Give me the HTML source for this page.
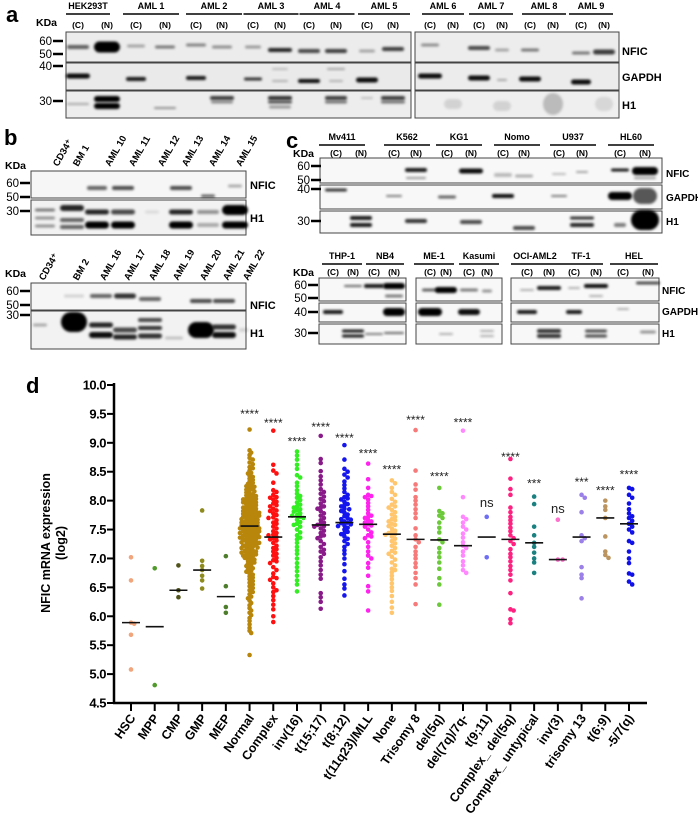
<!DOCTYPE html>
<html><head><meta charset="utf-8"><style>
html,body{margin:0;padding:0;background:#fff}
svg{display:block}
text{font-family:"Liberation Sans",Arial,sans-serif}
.b{font-weight:bold}
</style></head><body>
<svg id="fig" width="698" height="818" viewBox="0 0 698 818" xmlns="http://www.w3.org/2000/svg">
<defs><filter id="blur" x="-50%" y="-100%" width="200%" height="300%"><feGaussianBlur stdDeviation="1.3"/></filter></defs>
<g id="blots"></g>
<g id="chart"></g>
</svg>
<script>
// ---------- chart data (panel d) ----------
const categories = ["HSC","MPP","CMP","GMP","MEP","Normal","Complex","inv(16)","t(15;17)","t(8;12)","t(11q23)/MLL","None","Trisomy 8","del(5q)","del(7q)/7q-","t(9;11)","Complex_ del(5q)","Complex_ untypical","inv(3)","trisomy 13","t(6;9)","-5/7(q)"];
const colors = ["#f2a47a","#4f9a2a","#50541a","#8d8a1e","#4d7d2c","#b8860b","#ff1010","#33ee22","#8a1a8a","#1515ee","#ff22ee","#ffc66e","#f77a7a","#6cc93a","#ff88ff","#6e6ef5","#ff2080","#1a8080","#ff70cc","#9a80e8","#bb9460","#1010e8"];
const medians = [5.89,5.82,6.45,6.80,6.34,7.56,7.37,7.72,7.58,7.62,7.59,7.42,7.33,7.32,7.22,7.37,7.33,7.27,6.98,7.37,7.70,7.60];
const sigLabels = ["","","","","","****","****","****","****","****","****","****","****","****","****","ns","****","***","ns","***","****","****"];
const sigY = [0,0,0,0,0,9.53,9.38,9.06,9.31,9.12,8.85,8.57,9.43,8.45,9.39,7.98,8.79,8.33,7.87,8.36,8.21,8.49];
const yTicks = ["4.5","5.0","5.5","6.0","6.5","7.0","7.5","8.0","8.5","9.0","9.5","10.0"];
const vHSC = [7.02,6.62,5.89,5.87,5.68,5.08];
const vMPP = [6.83,4.81];
const vCMP = [6.88,6.45,6.33];
const vGMP = [7.83,6.96,6.87,6.80,6.70,6.62,6.48];
const vMEP = [7.04,6.52,6.16,6.06];
const vNormal = [9.23,8.87,8.83,8.79,8.74,8.71,8.66,8.63,8.58,8.56,8.52,8.48,8.47,8.43,8.41,8.38,8.36,8.33,8.31,8.29,8.27,8.25,8.24,8.22,8.20,8.19,8.17,8.16,8.14,8.12,8.11,8.09,8.08,8.06,8.05,8.03,8.02,8.01,7.99,7.98,7.97,7.95,7.94,7.93,7.92,7.90,7.89,7.88,7.86,7.85,7.84,7.83,7.82,7.80,7.79,7.78,7.77,7.76,7.75,7.74,7.73,7.72,7.71,7.70,7.69,7.68,7.67,7.66,7.65,7.64,7.63,7.62,7.61,7.60,7.59,7.58,7.57,7.56,7.55,7.54,7.53,7.52,7.51,7.50,7.49,7.48,7.47,7.46,7.45,7.44,7.43,7.42,7.41,7.40,7.39,7.38,7.37,7.36,7.35,7.34,7.33,7.32,7.31,7.30,7.29,7.28,7.27,7.26,7.25,7.24,7.22,7.21,7.20,7.19,7.18,7.17,7.15,7.14,7.13,7.12,7.10,7.09,7.08,7.06,7.05,7.04,7.02,7.01,6.99,6.98,6.96,6.94,6.93,6.91,6.89,6.87,6.85,6.83,6.81,6.79,6.77,6.74,6.72,6.69,6.67,6.64,6.61,6.58,6.55,6.52,6.49,6.45,6.42,6.38,6.34,6.31,6.27,6.23,6.19,6.14,6.10,6.06,6.02,5.97,5.92,5.86,5.80,5.75,5.71,5.33,7.88,7.81,7.74,7.66,7.59,7.52,7.44,7.36,7.28,7.19,7.11,7.62,7.57,7.47,7.68,7.39,7.53,7.79,7.23,7.97,8.04,7.07];
const vComplex = [9.21,8.62,8.52,8.47,8.31,8.18,8.15,8.10,8.05,8.02,7.98,7.95,7.90,7.86,7.82,7.78,7.75,7.71,7.66,7.60,7.55,7.52,7.47,7.44,7.40,7.37,7.35,7.31,7.27,7.22,7.16,7.12,7.05,7.01,6.97,6.92,6.85,6.80,6.74,6.68,6.63,6.57,6.50,6.42,6.35,6.28,6.20,6.12,6.00,5.90,7.83,7.62,7.41,7.33,7.18,7.08,6.95,6.66,6.45,7.70,7.92,8.06];
const vInv16 = [8.85,8.78,8.71,8.62,8.55,8.44,8.40,8.31,8.25,8.18,8.12,8.05,8.01,7.97,7.93,7.88,7.85,7.81,7.78,7.75,7.72,7.70,7.67,7.63,7.60,7.55,7.50,7.45,7.40,7.33,7.27,7.20,7.14,7.08,7.00,6.92,6.85,6.78,6.70,6.62,6.55,6.43,7.90,7.74,7.58,7.36,8.08,7.83];
const vT1517 = [9.12,8.72,8.65,8.51,8.42,8.35,8.28,8.20,8.12,8.07,8.03,7.99,7.95,7.90,7.86,7.82,7.78,7.74,7.70,7.66,7.62,7.58,7.55,7.52,7.48,7.44,7.40,7.35,7.30,7.25,7.20,7.15,7.08,7.02,6.95,6.88,6.80,6.72,6.65,6.40,6.33,6.25,6.13,7.88,7.60,7.56,7.38,7.12,8.15];
const vT812 = [8.96,8.71,8.55,8.50,8.45,8.40,8.33,8.27,8.21,8.15,8.10,8.06,8.02,7.98,7.94,7.90,7.86,7.82,7.79,7.76,7.73,7.70,7.67,7.64,7.62,7.59,7.56,7.53,7.50,7.46,7.42,7.38,7.34,7.30,7.25,7.20,7.14,7.08,7.00,6.90,6.78,6.65,6.55,6.48,6.36,7.85,7.68,7.61,7.57,7.44,7.92,8.04];
const vMLL = [8.64,8.37,8.22,8.10,8.06,8.02,7.96,7.90,7.84,7.78,7.74,7.70,7.66,7.62,7.59,7.55,7.50,7.45,7.40,7.35,7.28,7.20,7.12,7.05,7.00,6.92,6.84,6.70,6.52,6.43,6.10,7.72,7.64,7.57,7.38,8.08];
const vNone = [8.35,8.30,8.22,8.15,8.10,8.03,7.98,7.93,7.88,7.84,7.80,7.76,7.72,7.68,7.64,7.60,7.56,7.52,7.48,7.44,7.41,7.38,7.34,7.30,7.26,7.22,7.18,7.13,7.08,7.03,6.98,6.93,6.88,6.82,6.76,6.70,6.64,6.57,6.50,6.44,6.35,6.25,6.15,6.06,7.90,7.66,7.46,7.42,7.10,6.80,7.58];
const vTri8 = [9.22,8.52,8.28,8.19,8.06,8.00,7.93,7.85,7.78,7.70,7.52,7.40,7.33,7.28,7.20,7.12,7.06,7.00,6.92,6.85,6.75,6.66,6.55,6.21];
const vDel5q = [8.22,7.82,7.78,7.74,7.70,7.62,7.53,7.45,7.33,7.28,7.18,7.10,7.02,6.93,6.82,6.66,6.55,6.20];
const vDel7q = [9.21,8.06,7.72,7.68,7.62,7.55,7.50,7.43,7.36,7.28,7.22,7.18,7.12,7.05,6.95,6.88,6.80,6.75];
const vT911 = [7.72,7.02];
const vCDel5q = [8.72,8.38,8.20,8.10,7.88,7.80,7.72,7.66,7.60,7.53,7.47,7.40,7.35,7.30,7.25,7.16,7.08,7.02,6.95,6.87,6.80,6.72,6.62,6.40,6.12,6.10,5.95,5.88];
const vUntyp = [8.07,7.94,7.55,7.40,7.27,7.20,7.10,7.00,6.93,6.75];
const vInv3 = [7.67,6.98,6.98];
const vTri13 = [8.10,8.05,7.80,7.40,7.35,7.30,6.85,6.72,6.66,6.31];
const vT69 = [8.00,7.90,7.84,7.70,7.38,7.12,7.06,7.01];
const v57q = [8.22,8.20,8.10,8.05,7.95,7.85,7.78,7.73,7.70,7.65,7.60,7.55,7.50,7.45,7.30,7.27,7.12,7.00,6.92,6.74,6.72,6.60,6.55];
const seriesValues = [vHSC,vMPP,vCMP,vGMP,vMEP,vNormal,vComplex,vInv16,vT1517,vT812,vMLL,vNone,vTri8,vDel5q,vDel7q,vT911,vCDel5q,vUntyp,vInv3,vTri13,vT69,v57q];

const NS="http://www.w3.org/2000/svg";
function mk(tag,attrs,parent,txt){const e=document.createElementNS(NS,tag);for(const k in attrs)e.setAttribute(k,attrs[k]);if(txt!==undefined)e.textContent=txt;parent.appendChild(e);return e;}

// ---------- panel d ----------
(function(){
const g=document.getElementById('chart');
const X0=114, Y0=703, YMIN=4.5, YMAX=10.0, YTOP=385, X1=647;
const yS=v=>Y0-(v-YMIN)/(YMAX-YMIN)*(Y0-YTOP);
const xS=i=>131+i*(629-131)/(categories.length-1);
let t=mk('text',{x:26,y:393,'font-size':22,class:'b'},g,'d');


let ax=mk('line',{x1:X0,y1:YTOP-2,x2:X0,y2:Y0+1,stroke:'#000','stroke-width':2.5},g);


let bx=mk('line',{x1:X0-1,y1:Y0,x2:X1,y2:Y0,stroke:'#000','stroke-width':2.5},g);


yTicks.forEach((lab)=>{const v=parseFloat(lab);const y=yS(v);
 mk('line',{x1:X0-7,y1:y,x2:X0,y2:y,stroke:'#000','stroke-width':2},g);
 let tl=mk('text',{x:X0-8,y:y+4.5,'font-size':13,class:'b','text-anchor':'end','letter-spacing':'-0.5'},g,lab);
 
 
});
let yt=mk('text',{transform:'translate(50,543) rotate(-90)','font-size':12.5,class:'b','text-anchor':'middle'},g,'NFIC mRNA expression');


let yt2=mk('text',{transform:'translate(65,543) rotate(-90)','font-size':12.5,class:'b','text-anchor':'middle'},g,'(log2)');


categories.forEach((c,i)=>{const x=xS(i);
 mk('line',{x1:x,y1:Y0,x2:x,y2:Y0+8,stroke:'#000','stroke-width':2},g);
 let xl=mk('text',{transform:`translate(${x+5},${Y0+15}) rotate(-55)`,'font-size':12.5,class:'b','text-anchor':'end'},g,c);
 
 
 const grp=mk('g',{},g);
 
 
 const vals=seriesValues[i].slice().sort((a,b)=>b-a);
 const placed=[]; const d=i==5?2.8:3.4, maxOff=i==5?10:9.5;
 vals.forEach(v=>{const py=yS(v);let off=0;
  for(let k=0;k<40;k++){const o=(k%2?1:-1)*Math.ceil(k/2)*1.6;
   if(Math.abs(o)>maxOff){off=(k%4<2?1:-1)*maxOff*((k*7)%10)/10;break;}
   if(placed.every(p=>Math.hypot(p[0]-o,p[1]-py)>=d)){off=o;break;}}
  placed.push([off,py]);
  const dot=mk('circle',{cx:x+off,cy:py,r:2.3,fill:colors[i]},grp);
  
  
 });
 const my=yS(medians[i]);
 const ml=mk('line',{x1:x-9,y1:my,x2:x+9,y2:my,stroke:'#111','stroke-width':1.6},g);
 
 
 if(sigLabels[i]){const ns=sigLabels[i]==='ns';
  const st=mk('text',{x:x,y:yS(sigY[i])+(ns?5:6),'font-size':ns?13:12,'text-anchor':'middle',fill:'#222'},g,sigLabels[i]);
  
  }
});
})();

// ---------- blots ----------
(function(){
const g=document.getElementById('blots');
function txt(x,y,s,size,opts){const e=mk('text',Object.assign({x:x,y:y,'font-size':size},opts||{}),g,s);return e;}
function box(x,y,w,h,name,fill){const r=mk('rect',{x:x,y:y,width:w,height:h,fill:fill||'#f3f3f3',stroke:'#444','stroke-width':1},g);
 
 }
function band(x,y,w,h,op){mk('rect',{x:x-w/2,y:y-h/2,width:w,height:h,rx:h/2,fill:'#000','fill-opacity':op,filter:'url(#blur)'},g);}
function header(cx,y,s,w){const t=txt(cx,y,s,9,{class:'b','text-anchor':'middle'});
 
 
 mk('line',{x1:cx-w/2,y1:y+5,x2:cx+w/2,y2:y+5,stroke:'#000','stroke-width':1.5},g);}
function cn(xc,xn,y){txt(xc,y,'(C)',8.5,{'text-anchor':'middle',class:'b'});txt(xn,y,'(N)',8.5,{'text-anchor':'middle',class:'b'});}
function marker(x,y,s){txt(x,y+4,s,11.5,{'text-anchor':'end'});mk('line',{x1:x+1,y1:y,x2:x+11,y2:y,stroke:'#000','stroke-width':2.5},g);}
function plabel(x,y,s,fs){const t=txt(x,y+4,s,fs||11,{class:'b'});
 
 }
function big(x,y,s){const t=txt(x,y,s,22,{class:'b'});
 
 }

// panel a
big(6,22,'a');
const aH=[["HEK293T",88,44],["AML 1",151,56],["AML 2",214,56],["AML 3",271,55],["AML 4",327,55],["AML 5",384,52],["AML 6",443,42],["AML 7",491,44],["AML 8",544,44],["AML 9",591,44]];
aH.forEach(h=>header(h[1],9,h[0],h[2]));
const aL=[[78,107],[136,165],[196,222],[253,280],[309,336],[367,393],[430,453],[479,502],[530,553],[581,604]];
aL.forEach(l=>cn(l[0],l[1],28));
txt(36,26,'KDa',10.5,{class:'b'});
box(66,32,345,30,'blot-a-nfic-left','#ececec');box(66,63,345,27,'blot-a-gapdh-left','#eaeaea');box(66,91,345,27,'blot-a-h1-left','#ededed');
box(415,32,204,30,'blot-a-nfic-right','#ededed');box(415,63,204,27,'blot-a-gapdh-right','#ececec');box(415,91,204,27,'blot-a-h1-right','#efefef');
marker(52,41,'60');marker(52,54,'50');marker(52,66,'40');marker(52,101,'30');
plabel(622,51,'NFIC');plabel(622,77,'GAPDH');plabel(622,105,'H1');
[[78,47,22,4,.6],[107,47,26,11,1],[136,46,18,3,.3],[165,47,20,3,.5],[196,45,20,3,.45],[222,47,20,3,.4],[253,47,16,3,.35],[280,50,24,4,.85],[309,51,22,4,.7],[336,51,22,4,.75],[367,51,16,3,.3],[393,49,22,4,.75],[430,45,18,3,.4],[479,48,22,4,.7],[502,50,14,3,.3],[530,50,18,3,.5],[581,53,18,3,.5],[604,52,22,5,.75],
 [78,76,24,5,.95],[136,79,20,4,.9],[196,78,20,4,.9],[253,79,18,3,.8],[280,69,16,2,.2],[280,81,16,2,.25],[309,81,22,4,.95],[336,69,18,2,.3],[336,81,14,2,.25],[367,80,22,5,.95],[430,76,24,5,.95],[479,78,22,5,.95],[502,80,10,2,.3],[530,79,22,5,.95],[581,82,20,5,.95],
 [78,104,22,2,.3],[107,99,26,6,1],[107,106,26,6,1],[165,108,22,2,.4],[222,98,24,4,.75],[222,102,22,3,.4],[280,98,24,4,.8],[280,102,24,3,.65],[280,107,22,3,.35],[336,98,22,4,.75],[336,102,22,3,.5],[367,98,12,2,.2],[393,98,24,4,.75],[393,102,24,3,.5],[453,104,18,10,.12],[502,106,18,10,.12],[553,104,20,22,.22],[604,104,18,14,.1]
].forEach(b=>band(...b));

// panel b
big(4,145,'b');
const bTop=[["CD34⁺",54],["BM 1",74],["AML 10",106],["AML 11",130],["AML 12",159],["AML 13",183],["AML 14",210],["AML 15",237]];
bTop.forEach(l=>{const t=txt(l[1]+4,167,l[0],9.5,{class:'b',transform:`rotate(-60 ${l[1]+4} 167)`});
 
 });
txt(5,169,'KDa',10.5,{class:'b'});
box(31,171,215,27,'blot-b1-nfic','#f6f6f6');box(31,200,215,35,'blot-b1-h1','#f2f2f2');
marker(19,183,'60');marker(19,197,'50');marker(19,211,'30');
plabel(250,185,'NFIC');plabel(250,218,'H1');
[[97,188,20,4,.6],[123,188,22,4,.7],[181,188,22,4,.7],[208,196,14,3,.6],[235,186,14,3,.3],
 [45,210,20,3,.5],[45,218,20,3,.4],[45,226,20,3,.4],[72,208,24,6,.85],[72,220,24,4,.6],[72,227,24,4,.6],[97,212,24,5,.85],[97,225,24,7,1],[123,212,24,5,.7],[123,225,24,7,1],[152,212,14,3,.1],[181,212,24,5,.85],[181,225,24,7,1],[208,212,22,4,.4],[208,225,22,4,.3],[235,210,26,10,1],[235,225,26,7,1]
].forEach(b=>band(...b));
const bBot=[["CD34⁺",40],["BM 2",74],["AML 16",101],["AML 17",125],["AML 18",150],["AML 19",174],["AML 20",201],["AML 21",224],["AML 22",244]];
bBot.forEach(l=>{const t=txt(l[1]+4,281,l[0],9.5,{class:'b',transform:`rotate(-60 ${l[1]+4} 281)`});
 
 });
txt(5,277,'KDa',10.5,{class:'b'});
box(31,283,215,27,'blot-b2-nfic','#f6f6f6');box(31,311,215,38,'blot-b2-h1','#f2f2f2');
marker(19,291,'60');marker(19,305,'50');marker(19,315,'30');
plabel(250,305,'NFIC');plabel(250,333,'H1');
[[74,296,20,3,.15],[101,296,22,4,.6],[125,296,22,5,.8],[150,299,22,4,.6],[201,301,22,4,.7],[224,301,22,4,.7],
 [40,325,14,3,.3],[74,322,26,20,1],[101,325,24,5,.85],[101,335,24,6,.95],[125,330,24,5,.7],[125,337,24,5,.85],[150,320,24,4,.7],[150,328,24,4,.8],[150,336,24,5,.8],[174,338,18,3,.2],[201,330,26,16,1],[224,327,24,5,.8],[224,335,24,6,.95],[244,330,10,4,.12]
].forEach(b=>band(...b));

// panel c
big(286,148,'c');
const cH=[["Mv411",342,46],["K562",407,46],["KG1",459,46],["Nomo",517,46],["U937",573,46],["HL60",631,46]];
cH.forEach(h=>header(h[1],140,h[0],h[2]));
const cL=[[336,361],[394,416],[447,471],[503,524],[559,582],[620,645]];
cL.forEach(l=>cn(l[0],l[1],156));
txt(293,157,'KDa',10.5,{class:'b'});
box(320,158,342,25,'blot-c1-nfic','#f8f8f8');box(320,185,342,24,'blot-c1-gapdh','#f8f8f8');box(320,211,342,22,'blot-c1-h1','#f8f8f8');
marker(310,166,'60');marker(310,180,'50');marker(310,189,'40');marker(310,221,'30');
plabel(666,173,'NFIC',10);plabel(666,197,'GAPDH',10);plabel(666,221,'H1',10);
[[416,170,22,4,.9],[416,178,20,2,.4],[471,171,24,5,.95],[503,175,18,4,.25],[524,176,18,3,.3],[559,174,14,2,.25],[582,172,12,2,.35],[620,170,18,3,.9],[645,171,26,8,1],[645,178,22,2,.4],
 [336,190,22,3,.8],[394,196,16,2,.5],[447,197,18,3,.6],[503,196,22,4,.95],[559,196,16,2,.5],[620,196,24,8,1],[645,196,24,16,.65],
 [361,218,22,4,.9],[361,225,22,4,.9],[416,221,22,4,.8],[471,222,22,4,.7],[524,228,22,4,.7],[582,218,24,3,.8],[582,225,24,4,.85],[620,225,12,4,.5],[645,220,28,20,1]
].forEach(b=>band(...b));
const cH2=[["THP-1",342,40],["NB4",385,38],["ME-1",434,40],["Kasumi",479,40],["OCI-AML2",535,48],["TF-1",581,44],["HEL",634,48]];
cH2.forEach(h=>header(h[1],259,h[0],h[2]));
const cL2=[[333,353],[374,394],[430,446],[469,487],[527,549],[574,596],[623,648]];
cL2.forEach(l=>cn(l[0],l[1],275));
txt(293,276,'KDa',10.5,{class:'b'});
[[319,87,'1'],[416,86,'2'],[511,148,'3']].forEach(b=>{box(b[0],278,b[1],23,'blot-c2-nfic-'+b[2],'#f8f8f8');box(b[0],303,b[1],19,'blot-c2-gapdh-'+b[2],'#f8f8f8');box(b[0],324,b[1],20,'blot-c2-h1-'+b[2],'#f8f8f8');});
marker(307,285,'60');marker(307,298,'50');marker(307,312,'40');marker(307,333,'30');
plabel(662,290,'NFIC',10);plabel(662,311,'GAPDH',10);plabel(662,333,'H1',10);
[[353,286,18,2,.6],[374,286,20,4,.9],[394,286,22,6,1],[394,296,18,3,.5],[430,290,16,3,.6],[446,290,22,6,1],[469,290,18,3,.5],[487,291,10,3,.4],[527,290,14,2,.3],[549,288,24,4,.9],[574,288,12,2,.3],[596,286,24,4,.95],[596,296,14,2,.3],[648,283,24,3,.7],
 [333,312,20,4,.9],[394,312,22,8,1],[430,312,24,8,1],[469,312,22,6,.95],[527,312,20,4,.9],[574,312,16,4,.9],[623,309,12,2,.3],
 [353,331,22,3,.9],[353,336,22,3,.9],[374,334,18,2,.5],[394,333,20,2,.6],[446,334,14,2,.3],[487,331,14,2,.3],[487,336,14,2,.3],[549,331,24,4,.8],[549,336,24,4,.8],[596,331,22,3,.7],[596,336,22,3,.7],[648,332,16,3,.4]
].forEach(b=>band(...b));
})();
</script>
</body></html>
